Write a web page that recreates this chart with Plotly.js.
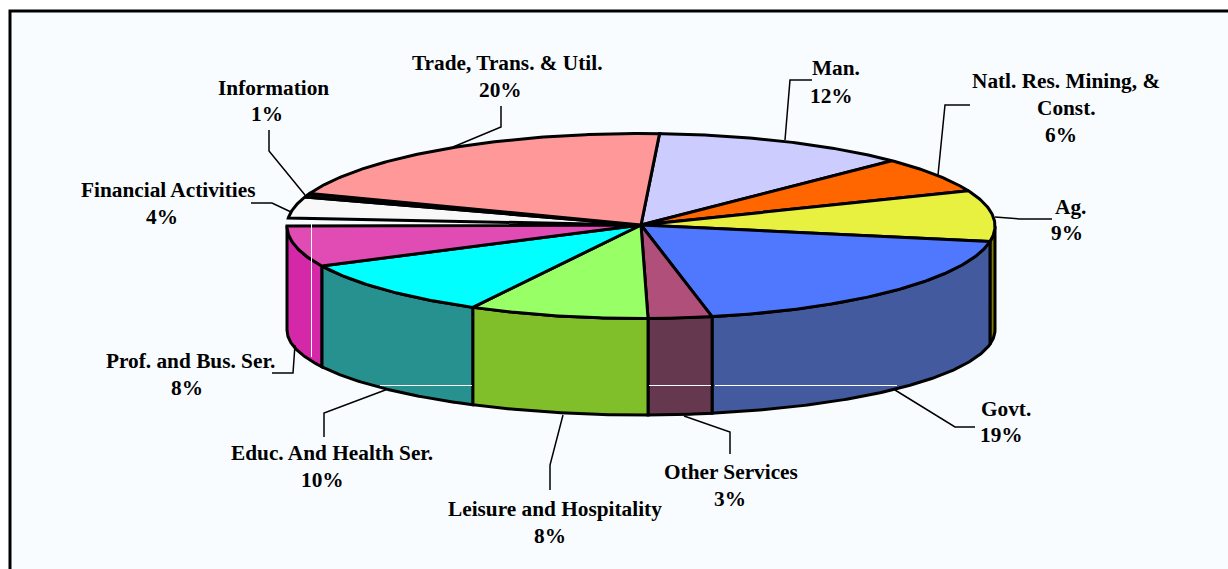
<!DOCTYPE html>
<html>
<head>
<meta charset="utf-8">
<script src="https://cdn.plot.ly/plotly-3.0.1.min.js"></script>
<style>html,body{margin:0;padding:0;background:#fff;overflow:hidden}</style>
</head>
<body>
<div id="chart" style="width:1228px;height:569px"></div>
<script>
// Slices clockwise from the top of the pie
var categories = ["Man.", "Natl. Res. Mining, &|Const.", "Ag.", "Govt.", "Other Services", "Leisure and Hospitality", "Educ. And Health Ser.", "Prof. and Bus. Ser.", "Financial Activities", "Information", "Trade, Trans. & Util."];
var labelPercent = [12, 6, 9, 19, 3, 8, 10, 8, 4, 1, 20];
// Share of the drawn circle (%)
var drawnShare = [11.7, 6.25, 8.9, 19.1, 2.9, 8.2, 10, 7.1, 3.7, 0.65, 20.1];
var gapBefore = [0, 0, 0, 0, 0, 0, 0, 0, 1.4, 0, 0];
var topColors = ["#CCCCFF", "#FF6600", "#E8F040", "#5078FF", "#B0507A", "#99FF66", "#00FFFF", "#E04CB4", "#F8F8F8", "#111111", "#FF9999"];
var wallColors = ["#9999BF", "#BF4C00", "#807F00", "#445A9E", "#663850", "#80BF2A", "#26918F", "#D428A8", "#BABABA", "#111111", "#BF7373"];

// Pie geometry in picture pixels
var apex = {x: 641, y: 225};
var rimTop = {cx: 641, cy: 226, rx: 354, ry: 92.5};
var rimBottom = {cx: 641, cy: 330, rx: 354, ry: 85};
var startAngle = 3;

// Label placement and leader lines
var labelX = [836, 1066, 1070, 1006, 731, 555, 332, 190, 168, 273, 507];
var percentX = [831, 1061, 1067, 1001, 730, 550, 322, 187, 162, 267, 500];
var labelY = [[68, 96], [81, 108, 135], [207, 233], [409, 435], [472, 499], [509, 536], [453, 480], [361, 388], [190, 217], [88, 114], [63, 90]];
var leaderX = [[812, 790, 785], [970, 945, 938], [1052, 1020, 995], [895, 955, 975], [684, 730, 730], [563, 550, 550], [388, 324, 324], [295, 293, 272], [291, 272, 251], [305, 269, 269], [453, 501, 501]];
var leaderY = [[80, 80, 140], [105, 105, 175], [219, 219, 217], [390, 427, 427], [416, 432, 454], [415, 465, 490], [389, 413, 437], [345, 373, 373], [212, 203, 203], [195, 151, 130], [147, 127, 106]];

function rimPoint(r, deg) {
  var a = deg * Math.PI / 180;
  return [r.cx + r.rx * Math.sin(a), r.cy - r.ry * Math.cos(a)];
}
function arc(r, from, to) {
  var pts = [], n = Math.max(2, Math.ceil(Math.abs(to - from) * 2));
  for (var i = 0; i <= n; i++) pts.push(rimPoint(r, from + (to - from) * i / n));
  return pts;
}
function poly(pts, fill, width) {
  return {
    type: "scatter", mode: "lines", hoverinfo: "skip", showlegend: false,
    x: pts.map(function (p) { return p[0]; }),
    y: pts.map(function (p) { return p[1]; }),
    fill: "toself", fillcolor: fill,
    line: {color: "#000000", width: width, shape: "linear"}
  };
}

// Angular extents come from the shares
var extents = [], cursor = startAngle;
var total = drawnShare.concat(gapBefore).reduce(function (a, b) { return a + b; }, 0);
drawnShare.forEach(function (v, i) {
  cursor += gapBefore[i] / total * 360;
  var end = cursor + v / total * 360;
  extents.push([cursor, end]);
  cursor = end;
});

var traces = [];
// Walls: only the part of the side facing the viewer
extents.forEach(function (e, i) {
  var a = Math.max(e[0], 90), b = Math.min(e[1], 270);
  if (b <= a) return;
  var pts = arc(rimTop, a, b).concat(arc(rimBottom, b, a));
  pts.push(pts[0]);
  traces.push(poly(pts, wallColors[i], 3));
});
// Top faces
extents.forEach(function (e, i) {
  var pts = [[apex.x, apex.y]].concat(arc(rimTop, e[0], e[1]));
  pts.push([apex.x, apex.y]);
  traces.push(poly(pts, topColors[i], 3));
});
// Thin white scan lines crossing the walls in the picture
var scanX = [[311.5, 311.5], [380, 472], [649, 711], [715, 897]];
var scanY = [[224, 357], [385.5, 385.5], [385.5, 385.5], [385.5, 385.5]];
scanX.forEach(function (xs, i) {
  traces.push({type: "scatter", mode: "lines", hoverinfo: "skip", showlegend: false,
    x: xs, y: scanY[i], line: {color: "#FFFFFF", width: 1}});
});
// Leader lines
leaderX.forEach(function (xs, i) {
  traces.push({type: "scatter", mode: "lines", hoverinfo: "skip", showlegend: false,
    x: xs, y: leaderY[i], line: {color: "#000000", width: 1.5}});
});

// Labels, one annotation per text line
var annotations = [];
categories.forEach(function (c, i) {
  var names = c.split("|");
  var lines = names.concat([labelPercent[i] + "%"]);
  lines.forEach(function (t, j) {
    annotations.push({
      x: j === names.length ? percentX[i] : labelX[i], y: labelY[i][j], xref: "x", yref: "y", text: t, showarrow: false,
      xanchor: "center", yanchor: "middle",
      font: {family: "Liberation Serif, serif", size: 21.3, color: "#000000", weight: 700}
    });
  });
});

var hiddenAxis = {visible: false, showgrid: false, zeroline: false, fixedrange: true};
var layout = {
  width: 1228, height: 569,
  margin: {l: 0, r: 0, t: 0, b: 0},
  paper_bgcolor: "#FFFFFF", plot_bgcolor: "rgba(0,0,0,0)",
  showlegend: false,
  xaxis: Object.assign({range: [0, 1228]}, hiddenAxis),
  yaxis: Object.assign({range: [569, 0]}, hiddenAxis),
  shapes: [{type: "rect", xref: "x", yref: "y", x0: 10, y0: 11, x1: 1260, y1: 600,
    fillcolor: "#F8FCFF", line: {color: "#000000", width: 3}, layer: "below"}],
  annotations: annotations
};
Plotly.newPlot("chart", traces, layout, {displayModeBar: false, staticPlot: true});
</script>
</body>
</html>
